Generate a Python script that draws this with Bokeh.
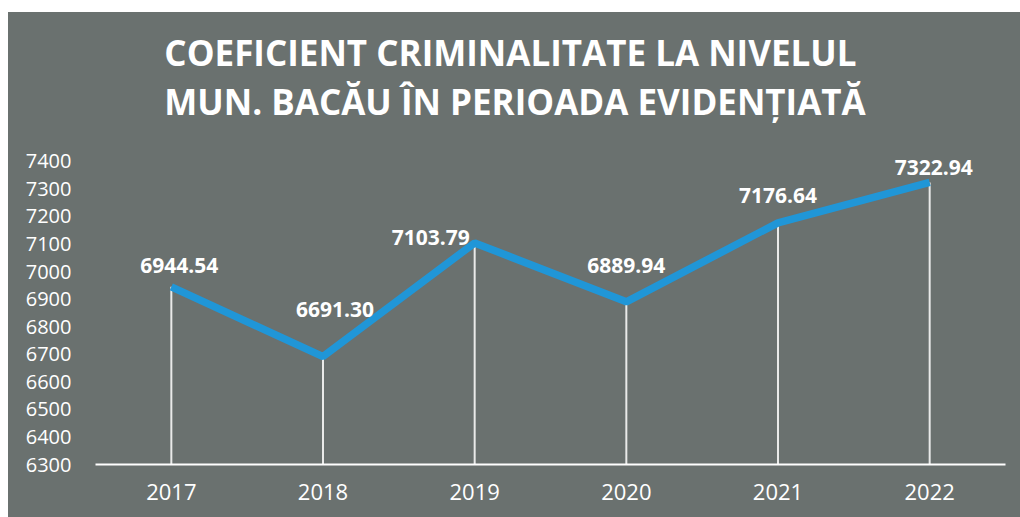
from bokeh.plotting import figure
from bokeh.models import FactorRange, Range1d, FixedTicker, Label, ColumnDataSource, Spacer
from bokeh.layouts import column, row
from bokeh.core.properties import value
from bokeh.embed import file_html
from bokeh.resources import INLINE

# ---- data ----
years = ["2017", "2018", "2019", "2020", "2021", "2022"]
coef = [6944.54, 6691.30, 7103.79, 6889.94, 7176.64, 7322.94]
y_ticks = [6300, 6400, 6500, 6600, 6700, 6800, 6900, 7000, 7100, 7200, 7300, 7400]
title_line1 = "COEFICIENT  CRIMINALITATE LA NIVELUL"
title_line2 = "MUN. BACĂU ÎN PERIOADA EVIDENȚIATĂ"

# ---- label placement (style, screen px) ----
label_dx = [8, 12, -44, 0, 0, 4]
label_dy = [-21, -47, -5, -36, -27, -15]

BG = "#6a716f"
FONT = "Open Sans"

src = ColumnDataSource(dict(
    year=years,
    value=coef,
    base=[y_ticks[0]] * len(years),
    label=[f"{v:.2f}" for v in coef],
    dx=label_dx,
    dy=label_dy,
))

# frame extends to the top of the canvas so the title lives inside it
p = figure(
    width=1012, height=505,
    x_range=FactorRange(*years),
    y_range=Range1d(6300, 7939.5),
    output_backend="svg",
    toolbar_location=None,
    min_border_left=87, min_border_right=15,
    min_border_top=0, min_border_bottom=53,
)
p.background_fill_color = None
p.border_fill_color = None
p.styles = {"background-color": BG}
p.outline_line_color = None
p.grid.grid_line_color = None

# title lines (x = canvas centre in category units, y above the value axis)
for txt, ty in ((title_line1, 7796), (title_line2, 7618)):
    p.add_layout(Label(x=2.766, y=ty, text=txt,
                       text_align="center", text_baseline="middle",
                       text_color="white", text_font=FONT, text_font_style="bold",
                       text_font_size="35px"))

# drop lines
p.segment(x0="year", y0="base", x1="year", y1="value", source=src,
          line_color="white", line_width=2, line_alpha=0.85)
# main line
p.line(x="year", y="value", source=src, line_color="#2096d7", line_width=7.5)

# data labels
p.text(x="year", y="value", text="label", source=src,
       x_offset="dx", y_offset="dy",
       text_align="center", text_baseline="middle",
       text_font=value(FONT), text_font_style="bold", text_font_size="21px",
       text_color="white")

# x axis
xa = p.xaxis[0]
xa.axis_line_color = "white"
xa.axis_line_width = 2
xa.major_tick_line_color = None
xa.minor_tick_line_color = None
xa.major_label_text_color = "white"
xa.major_label_text_font = FONT
xa.major_label_text_font_size = "22px"
xa.major_label_standoff = 13

# y axis
ya = p.yaxis[0]
ya.ticker = FixedTicker(ticks=y_ticks)
ya.axis_line_color = None
ya.major_tick_line_color = None
ya.minor_tick_line_color = None
ya.major_label_text_color = "white"
ya.major_label_text_font = FONT
ya.major_label_text_font_size = "20px"
ya.major_label_standoff = 18

layout = column(Spacer(height=12), row(Spacer(width=8), p))
open("out.html", "w").write(file_html(layout, INLINE))
